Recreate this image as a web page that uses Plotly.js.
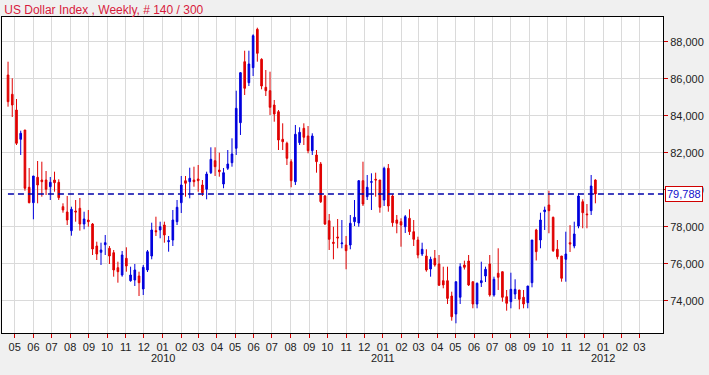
<!DOCTYPE html>
<html><head><meta charset="utf-8">
<script src="https://cdn.plot.ly/plotly-3.0.1.min.js"></script>
<style>html,body{margin:0;padding:0;background:#f0f0f0;}#chart{width:709px;height:375px;}</style>
</head><body><div id="chart"></div>
<script>
const weeks = [
"2009-04-20","2009-04-27","2009-05-04","2009-05-11","2009-05-18","2009-05-25","2009-06-01","2009-06-08","2009-06-15","2009-06-22","2009-06-29",
"2009-07-06","2009-07-13","2009-07-20","2009-07-27","2009-08-03","2009-08-10","2009-08-17","2009-08-24","2009-08-31","2009-09-07","2009-09-14",
"2009-09-21","2009-09-28","2009-10-05","2009-10-12","2009-10-19","2009-10-26","2009-11-02","2009-11-09","2009-11-16","2009-11-23","2009-11-30",
"2009-12-07","2009-12-14","2009-12-21","2009-12-28",
"2010-01-04","2010-01-11","2010-01-18","2010-01-25","2010-02-01","2010-02-08","2010-02-15","2010-02-22","2010-03-01","2010-03-08","2010-03-15",
"2010-03-22","2010-03-29","2010-04-05","2010-04-12","2010-04-19","2010-04-26","2010-05-03","2010-05-10","2010-05-17","2010-05-24","2010-05-31",
"2010-06-07","2010-06-14","2010-06-21","2010-06-28","2010-07-05","2010-07-12","2010-07-19","2010-07-26","2010-08-02","2010-08-09","2010-08-16",
"2010-08-23","2010-08-30","2010-09-06","2010-09-13","2010-09-20","2010-09-27","2010-10-04","2010-10-11","2010-10-18","2010-10-25","2010-11-01",
"2010-11-08","2010-11-15","2010-11-22","2010-11-29","2010-12-06","2010-12-13","2010-12-20","2010-12-27",
"2011-01-03","2011-01-10","2011-01-17","2011-01-24","2011-01-31","2011-02-07","2011-02-14","2011-02-21","2011-02-28","2011-03-07","2011-03-14",
"2011-03-21","2011-03-28","2011-04-04","2011-04-11","2011-04-18","2011-04-25","2011-05-02","2011-05-09","2011-05-16","2011-05-23","2011-05-30",
"2011-06-06","2011-06-13","2011-06-20","2011-06-27","2011-07-04","2011-07-11","2011-07-18","2011-07-25","2011-08-01","2011-08-08","2011-08-15",
"2011-08-22","2011-08-29","2011-09-05","2011-09-12","2011-09-19","2011-09-26","2011-10-03","2011-10-10","2011-10-17","2011-10-24","2011-10-31",
"2011-11-07","2011-11-14","2011-11-21","2011-11-28","2011-12-05","2011-12-12","2011-12-19"
];
const openV = [
86216,85173,84324,82740,83243,80146,79313,80686,80540,80540,80178,80540,80416,79097,78811,77800,78865,79011,78162,78378,
78162,76973,76632,77043,76849,76611,75800,75405,76308,75097,75135,75351,74649,75676,76432,77800,77838,78108,77205,77297,
78286,79313,80502,80448,80540,80595,80270,80038,80935,81583,81081,80324,81173,81475,82254,83638,86935,85800,86611,88686,
87065,85551,85367,84594,84232,82740,82524,81530,80448,82557,83335,82919,82124,81892,81405,79676,78340,77173,77460,77097,
77027,77027,78286,78216,80502,79638,80416,80578,80540,79459,81173,79676,78378,78286,78016,78470,77746,77297,76540,76432,
75730,76308,76000,75097,75097,74270,73298,74200,75946,76162,75043,73838,74989,75351,76000,74324,75500,75584,74232,73962,
74378,74595,74200,73908,74989,77838,77297,78827,79189,78524,76795,76432,76254,77151,76973,78054,79367,78703,78881,80540
];
const highV = [
86935,86038,84919,83205,83243,81189,80757,81567,81530,81027,80703,80989,80578,79281,79676,79097,79459,79567,78827,78919,
78216,77205,77151,77568,76973,76757,76124,76703,76903,75854,76000,75584,75946,76757,78232,78557,78286,78286,77514,78919,
79459,80757,80757,81205,81259,81351,80540,80989,82308,82308,82016,81189,82162,82794,85367,86378,87529,87529,88416,88773,
87119,86486,86394,84865,84324,83605,82611,81659,83514,83389,83605,83459,83065,82162,81513,79730,78703,78016,78432,78378,
77514,78649,79459,80540,81530,80811,80902,80935,80540,81259,81405,79767,78649,78470,78649,78957,78378,77476,77151,76795,
76395,76757,76486,75854,75854,74503,75043,76038,76180,76486,75043,75000,76124,75854,76486,75314,76849,75584,74595,75529,
75173,74595,74595,74811,77297,77900,78773,79100,79962,78560,77297,76432,77746,78100,78286,79822,79497,79243,80811,80578
];
const lowV = [
84503,83946,82432,81892,79960,79281,78416,79281,79638,79730,79459,79908,79459,78773,78108,77530,78286,77800,77876,78016,
76486,76216,75946,76486,76000,75314,74989,75314,75584,75043,74811,74270,74324,75567,76254,77514,77389,77151,76665,76973,
78108,78757,79638,79551,80178,79908,79676,79497,80865,80757,80719,80092,81081,81259,81892,82973,85135,85621,86162,86935,
85443,85081,84054,83692,82162,82162,81351,80146,80270,82432,82432,81984,81892,80935,79297,78108,76757,76254,76849,76849,
75714,76795,78054,78016,79135,79459,78919,79638,78773,79135,78827,78016,77660,76935,77676,77568,76973,76308,76432,75584,
75314,75854,74811,74686,73838,72935,72795,73838,75700,74811,73605,73605,74757,75027,74232,74232,74595,73962,73476,73605,
74108,73551,73605,73605,74740,76190,76849,77838,77660,76649,76254,75043,75043,76649,76849,77930,77930,77930,78649,79281
];
const closeV = [
84773,84594,82524,83065,80092,79313,80757,80270,80448,80038,80416,80394,79584,78919,78378,78957,78811,78162,78432,78286,
76811,76540,76757,77151,76432,75676,75584,76486,75892,75405,75676,74989,75822,76665,77838,77746,78016,77568,77259,78378,
79065,80270,80362,80632,80448,80502,79854,80865,81659,81259,80989,80935,81405,81946,84416,86340,85497,86811,88340,87389,
85621,85367,84470,84108,82703,82611,81713,80502,83011,83119,82848,82124,82919,81530,79367,78162,77335,77119,77410,77135,
76719,78200,78524,80502,79243,80146,80448,80540,79065,81173,79135,78232,78200,78108,78557,77746,77335,76486,76795,75676,
76254,75946,74854,74870,74140,73151,75043,75854,75822,74865,73838,74957,75097,75714,74324,75173,75280,74200,73876,74632,
74632,74092,73838,74811,77297,76665,78378,78919,78881,76719,76395,75227,76540,77081,77622,79676,78773,78665,80216,79788
];
const lastValue = 79788;
const monthTicks = ["2009-05-01","2009-06-01","2009-07-01","2009-08-01","2009-09-01","2009-10-01","2009-11-01","2009-12-01",
"2010-01-01","2010-02-01","2010-03-01","2010-04-01","2010-05-01","2010-06-01","2010-07-01","2010-08-01","2010-09-01","2010-10-01","2010-11-01","2010-12-01",
"2011-01-01","2011-02-01","2011-03-01","2011-04-01","2011-05-01","2011-06-01","2011-07-01","2011-08-01","2011-09-01","2011-10-01","2011-11-01","2011-12-01",
"2012-01-01","2012-02-01","2012-03-01"];
const monthLabels = ["05","06","07","08","09","10","11","12","01","02","03","04","05","06","07","08","09","10","11","12",
"01","02","03","04","05","06","07","08","09","10","11","12","01","02","03"];
const yearLabels = ["2010","2011","2012"];
const yearTicks = ["2010-01-01","2011-01-01","2012-01-01"];

const font = "Liberation Sans, Arial, sans-serif";
const trace = {
  type: 'candlestick', x: weeks, open: openV, high: highV, low: lowV, close: closeV,
  increasing: {line: {color: '#0000dd', width: 1}, fillcolor: '#0000dd'},
  decreasing: {line: {color: '#e00000', width: 1}, fillcolor: '#e00000'},
  whiskerwidth: 0, hoverinfo: 'skip', showlegend: false
};
const annotations = yearLabels.map((t, k) => ({
  text: t, x: yearTicks[k], xref: 'x', y: -0.08, yref: 'paper', yanchor: 'middle', xanchor: 'center',
  showarrow: false, font: {family: font, size: 11, color: '#222'}
}));
annotations.push({
  text: '79,788', x: 1, xref: 'paper', xanchor: 'left', xshift: 2, y: lastValue, yref: 'y', yanchor: 'middle',
  showarrow: false, bgcolor: '#ffffff', bordercolor: '#d00000', borderwidth: 1, borderpad: 1,
  font: {family: font, size: 11, color: '#1010cc'}
});
const layout = {
  width: 709, height: 375,
  margin: {l: 2, r: 46, t: 17, b: 42},
  paper_bgcolor: '#f0f0f0', plot_bgcolor: '#ffffff',
  title: {text: 'US Dollar Index , Weekly, # 140 / 300', x: 0.006, xanchor: 'left', y: 0.973, yanchor: 'middle',
          font: {family: font, size: 12, color: '#d81b3c'}},
  boxgap: 0.45,
  xaxis: {
    type: 'date', range: ['2009-04-10', '2012-04-09'], rangeslider: {visible: false},
    tickmode: 'array', tickvals: monthTicks, ticktext: monthLabels,
    ticks: 'outside', ticklen: 4, tickcolor: '#d00000', tickwidth: 1,
    showgrid: true, gridcolor: '#dadada', gridwidth: 1,
    showline: true, linecolor: '#000', linewidth: 1, mirror: true,
    tickfont: {family: font, size: 11, color: '#222'}, fixedrange: true
  },
  yaxis: {
    side: 'right', range: [72270, 89351], tick0: 0, dtick: 2000, tickformat: ',d',
    ticks: 'outside', ticklen: 4, tickcolor: '#d00000', tickwidth: 1,
    showgrid: true, gridcolor: '#dadada', gridwidth: 1, zeroline: false,
    showline: true, linecolor: '#000', linewidth: 1, mirror: true,
    tickfont: {family: font, size: 11, color: '#222'}, fixedrange: true
  },
  shapes: [{type: 'line', xref: 'paper', x0: 0.009, x1: 1, yref: 'y', y0: lastValue, y1: lastValue,
            line: {color: '#0000aa', width: 1.5, dash: '6px,4px'}}],
  annotations: annotations
};
Plotly.newPlot('chart', [trace], layout, {staticPlot: true, displayModeBar: false});
</script>
</body></html>
